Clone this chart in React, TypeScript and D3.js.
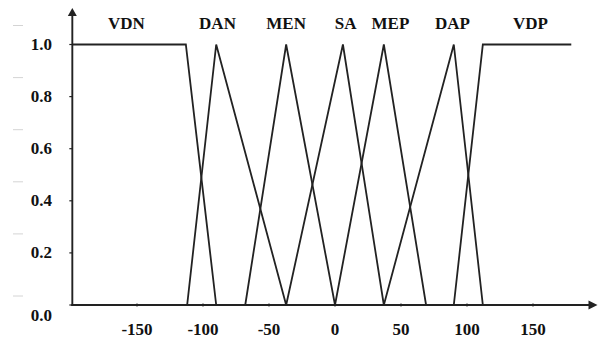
import React from "react";
import * as d3 from "d3";

const W = 598;
const H = 342;

// membership functions: [x, membership]
const setNames = ["VDN", "DAN", "MEN", "SA", "MEP", "DAP", "VDP"];
const VDN: [number, number][] = [[-199, 1], [-113, 1], [-90, 0]];
const DAN: [number, number][] = [[-112, 0], [-90, 1], [-37, 0]];
const MEN: [number, number][] = [[-68, 0], [-37, 1], [0, 0]];
const SA: [number, number][] = [[-37, 0], [6, 1], [37, 0]];
const MEP: [number, number][] = [[0, 0], [37, 1], [69, 0]];
const DAP: [number, number][] = [[37, 0], [90, 1], [112, 0]];
const VDP: [number, number][] = [[90, 0], [112, 1], [179, 1]];
const series = [VDN, DAN, MEN, SA, MEP, DAP, VDP];
const labelX = [-158, -89, -37, 8, 42, 89, 148];

const xTicks = [-150, -100, -50, 0, 50, 100, 150];
const yTicks = [0, 0.2, 0.4, 0.6, 0.8, 1.0];

export default function App() {
  const x = d3.scaleLinear().domain([-150, 150]).range([137, 533]);
  const y = d3.scaleLinear().domain([0, 1]).range([305, 44.5]);
  const line = d3
    .line<[number, number]>()
    .x((d) => x(d[0]))
    .y((d) => y(d[1]));
  const x0 = x(-199);
  const xEnd = 597.5;
  const font = "'Times New Roman', 'Liberation Serif', serif";
  const ink = "#222";

  return (
    <svg
      width={W}
      height={H}
      style={{ position: "absolute", left: 0, top: 0, background: "#fff" }}
    >
      {/* faint scan dashes */}
      {yTicks.map((v) => (
        <line
          key={"f" + v}
          x1={13}
          x2={23}
          y1={y(v) - (v === 0 ? 9 : 19)}
          y2={y(v) - (v === 0 ? 9 : 19)}
          stroke="#d4d4d4"
          strokeWidth={1}
        />
      ))}
      {/* axes */}
      <line x1={x0} x2={x0} y1={y(0) + 1} y2={14} stroke={ink} strokeWidth={1.9} />
      <path d={`M${x0 - 4.5},16 L${x0},8 L${x0 + 4.5},16 Z`} fill={ink} />
      <line x1={x0 - 1} x2={xEnd - 8} y1={y(0)} y2={y(0)} stroke={ink} strokeWidth={1.9} />
      <path
        d={`M${xEnd - 9},${y(0) - 4.5} L${xEnd},${y(0)} L${xEnd - 9},${y(0) + 4.5} Z`}
        fill={ink}
      />
      {/* y ticks */}
      {yTicks.map((v) => (
        <g key={"y" + v}>
          <line x1={x0 - 3} x2={x0} y1={y(v)} y2={y(v)} stroke={ink} strokeWidth={1.2} />
          <text
            x={52}
            y={v === 0 ? y(v) + 16 : y(v) + 5.5}
            textAnchor="end"
            fontFamily={font}
            fontWeight="bold"
            fontSize={17}
            fill="#111"
          >
            {v.toFixed(1)}
          </text>
        </g>
      ))}
      {/* x ticks */}
      {xTicks.map((v) => (
        <g key={"x" + v}>
          <line x1={x(v)} x2={x(v)} y1={y(0) - 1.5} y2={y(0) + 1.5} stroke={ink} strokeWidth={1.2} />
          <text
            x={x(v)}
            y={335}
            textAnchor="middle"
            fontFamily={font}
            fontWeight="bold"
            fontSize={17}
            fill="#111"
          >
            {v}
          </text>
        </g>
      ))}
      {/* membership functions */}
      {series.map((s, i) => (
        <path key={"s" + i} d={line(s) || ""} fill="none" stroke={ink} strokeWidth={1.8} />
      ))}
      {setNames.map((n, i) => (
        <text
          key={n}
          x={x(labelX[i])}
          y={28.5}
          textAnchor="middle"
          fontFamily={font}
          fontWeight="bold"
          fontSize={17}
          fill="#111"
        >
          {n}
        </text>
      ))}
    </svg>
  );
}
